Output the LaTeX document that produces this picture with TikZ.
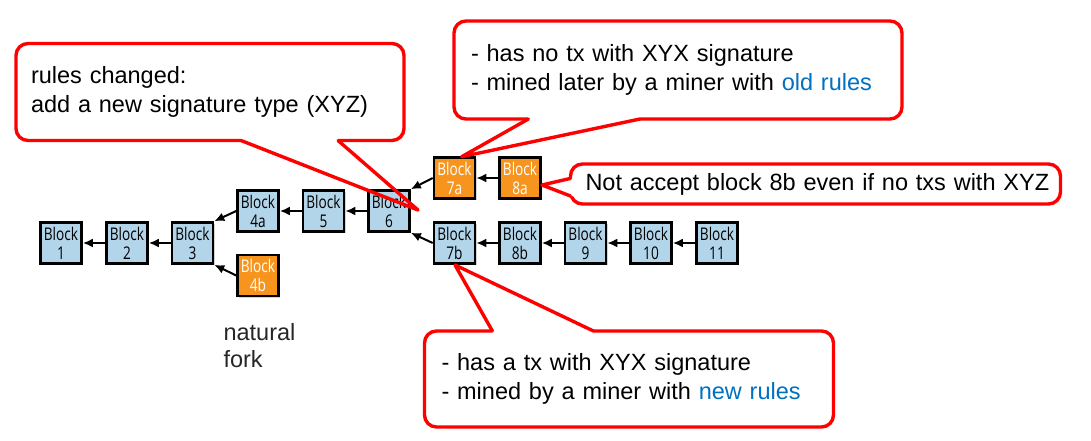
\documentclass[tikz,border=0pt]{standalone}
\usepackage{fontspec}
\setmainfont{Liberation Sans}
\newfontfamily\blockfont[FakeStretch=0.78]{Open Sans}
\usetikzlibrary{arrows.meta, calc, shadows}

\begin{document}
\begin{tikzpicture}[x=1pt, y=-1pt,
		blk/.style={draw, line width=2.6pt, fill=blue1, minimum size=41pt, inner sep=0pt, align=center,
				font=\blockfont\fontsize{17.5}{19}\selectfont,
				drop shadow={shadow xshift=1.8pt, shadow yshift=-1.8pt, opacity=.35}},
		blkold/.style={blk, fill=orange1, text=white},
		link/.style={-{Latex[length=10pt,width=9pt]}, line width=2pt},
		note/.style={draw=red1, line width=3.4pt, fill=white, rounded corners=12pt, outer sep=0pt,
				align=left, inner sep=0pt, font=\fontsize{23.5}{29.5}\selectfont},
		callline/.style={draw=red1, line width=3.4pt, line join=round, line cap=round}]
		\definecolor{blue1}{HTML}{B3D5EA}
		\definecolor{orange1}{HTML}{F7941D}
		\definecolor{red1}{HTML}{FF0000}
		\definecolor{rule1}{HTML}{0070C0}
		\useasboundingbox (0,0) rectangle (1091,440);

		\node[note, text width=358pt, minimum width=388pt, minimum height=97pt] (rules) at (210,92)
			{rules changed:\\add a new signature type (XYZ)};
		\node[note, text width=414pt, minimum width=448pt, minimum height=98pt] (oldnote) at (678,70)
			{- has no tx with XYX signature\\- mined later by a miner with \textcolor{rule1}{old rules}};
		\node[note, text width=460pt, minimum width=490pt, minimum height=40pt] (rejnote) at (815.5,184)
			{\mbox{Not accept block 8b even if no txs with XYZ}};
		\node[note, text width=375pt, minimum width=409pt, minimum height=96pt] (newnote) at (629,379)
			{- has a tx with XYX signature\\- mined by a miner with \textcolor{rule1}{new rules}};

		\coordinate (tiprules) at (418,210);
		\coordinate (tipold) at (461.7,156.7);
		\coordinate (tiprej) at (542,185);
		\coordinate (tipnew) at (455,265);

		\foreach \c/\s/\e/\f/\g/\t in {rules/south west/south east/0.58/0.83/tiprules,
				oldnote/south west/south east/0.166/0.415/tipold,
				rejnote/north west/south west/0.36/0.8/tiprej,
				newnote/north east/north west/0.587/0.834/tipnew}{
				\coordinate (\c-a) at ($(\c.\s)!\f!(\c.\e)$);
				\coordinate (\c-b) at ($(\c.\s)!\g!(\c.\e)$);
				\fill[white] ($(\c-a)!4pt!90:(\c-b)$) -- (\c-a) -- (\t) -- (\c-b) -- ($(\c-b)!4pt!-90:(\c-a)$) -- cycle;
			}

		\node[anchor=west, align=left, text=black!85, font=\fontsize{23.5}{27}\selectfont] (fork) at (220,346)
			{natural\\fork};

		\foreach \n/\x/\y/\lab/\kind in {b1/61/243/1/blk, b2/127/243/2/blk, b3/192.5/243/3/blk,
				b4a/258/211/4a/blk, b4b/258/275.5/4b/blkold, b5/323.5/211/5/blk, b6/389/211/6/blk,
				b7a/454.5/178/7a/blkold, b8a/520/178/8a/blkold,
				b7b/454.5/243/7b/blk, b8b/520/243/8b/blk, b9/585.5/243/9/blk,
				b10/651/243/10/blk, b11/717/243/11/blk}{
				\node[\kind] (\n) at (\x,\y) {Block\\\lab};
			}

		\foreach \s/\t in {b2/b1.east, b3/b2.east, b4a/b3.north east, b4b/b3.south east,
				b5/b4a.east, b6/b5.east, b7a/b6.north east, b7b/b6.south east,
				b8a/b7a.east, b8b/b7b.east, b9/b8b.east, b10/b9.east, b11/b10.east}{
				\draw[link] (\s.west) -- (\t);
			}

		\foreach \c/\t in {rules/tiprules, oldnote/tipold, rejnote/tiprej, newnote/tipnew}{
				\draw[callline] (\c-a) -- (\t) -- (\c-b);
			}
	\end{tikzpicture}
\end{document}
